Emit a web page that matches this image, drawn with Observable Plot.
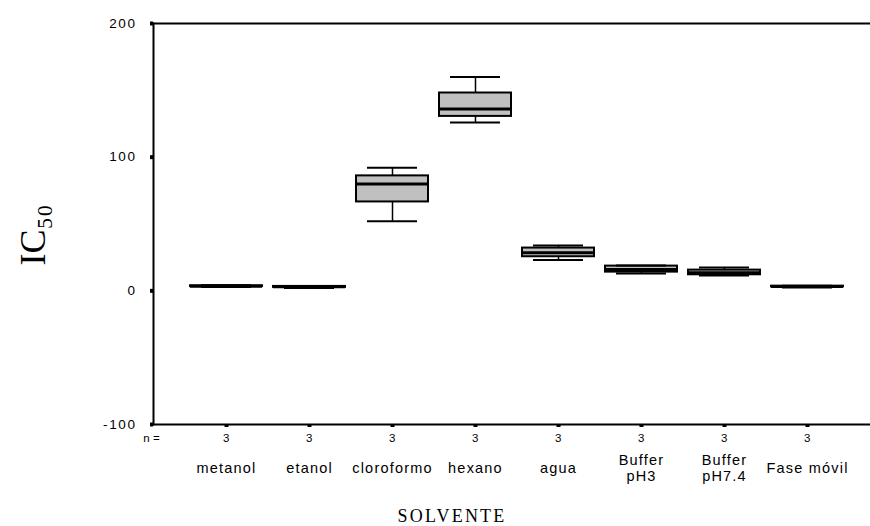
<!DOCTYPE html>
<html>
<head>
<meta charset="utf-8">
<script src="https://cdn.jsdelivr.net/npm/d3@7"></script>
<script src="https://cdn.jsdelivr.net/npm/@observablehq/plot@0.6"></script>
<style>
  html, body { margin: 0; padding: 0; background: #fff; }
  #chart svg { display: block; }
  #chart g[aria-label="y-axis tick label"] text { letter-spacing: 1.6px; }
  #chart g[aria-label="x-axis tick label"] text { letter-spacing: 0.5px; }
  #chart g.catlabels text { letter-spacing: 1.2px; }
  #chart g.xtitle text { letter-spacing: 2.2px; }
</style>
</head>
<body>
<div id="chart"></div>
<script>
// Data (IC50 per solvent, n = 3 each)
const categories = ["metanol", "etanol", "cloroformo", "hexano", "agua", "Buffer pH3", "Buffer pH7.4", "Fase móvil"];
const labels     = ["metanol", "etanol", "cloroformo", "hexano", "agua", "Buffer\npH3", "Buffer\npH7.4", "Fase móvil"];
const nCounts    = [3, 3, 3, 3, 3, 3, 3, 3];
const mins       = [2.8, 2.2, 52, 126, 23, 13, 11.5, 2.5];
const q1s        = [3.2, 2.6, 66.5, 130.5, 25.5, 14, 12, 3.0];
const medians    = [3.5, 3.0, 80, 136, 28.5, 16, 13.5, 3.2];
const q3s        = [3.8, 3.3, 86, 148, 32, 18.5, 15.5, 3.5];
const maxs       = [4.2, 3.6, 92, 160, 34, 19, 17.5, 3.8];
const yTicks     = [-100, 0, 100, 200];

const rows = categories.map((c, i) => ({
  cat: c, label: labels[i], n: nCounts[i],
  min: mins[i], q1: q1s[i], med: medians[i], q3: q3s[i], max: maxs[i]
}));

const sans = "'Liberation Sans', Arial, sans-serif";
const serif = "'Liberation Serif', 'Times New Roman', serif";

const chart = Plot.plot({
  width: 870,
  height: 526,
  marginTop: 23,
  marginBottom: 102,
  marginLeft: 153,
  marginRight: 0,
  style: { fontFamily: sans, background: "white", color: "black" },
  x: { type: "band", domain: categories, paddingInner: 0.132, paddingOuter: 0.38, align: 0.585, label: null },
  y: { domain: [-100, 200], label: null },
  marks: [
    // axes lines (top, bottom, left)
    Plot.ruleY([yTicks[0], yTicks[yTicks.length - 1]], { stroke: "black", strokeWidth: 2 }),
    Plot.frame({ anchor: "left", stroke: "black", strokeWidth: 2 }),
    Plot.axisY({ ticks: yTicks, tickSize: 3, tickPadding: 14, strokeWidth: 4, fontSize: 13.5, label: null,
                 tickFormat: (d) => String(d) }),
    Plot.axisX({ tickSize: 3, tickPadding: 6, strokeWidth: 4, fontSize: 11.5, label: null,
                 tickFormat: (d) => String(nCounts[categories.indexOf(d)]) }),
    // whiskers
    Plot.ruleX(rows, { x: "cat", y1: "min", y2: "max", stroke: "black", strokeWidth: 1.5 }),
    // boxes
    Plot.barY(rows, { x: "cat", y1: "q1", y2: "q3", fill: "#c0c0c0", stroke: "black", strokeWidth: 2 }),
    // medians
    Plot.tickY(rows, { x: "cat", y: "med", stroke: "black", strokeWidth: 3 }),
    // whisker caps
    Plot.tickY(rows, { x: "cat", y: "min", stroke: "black", strokeWidth: 2, insetLeft: 11, insetRight: 11 }),
    Plot.tickY(rows, { x: "cat", y: "max", stroke: "black", strokeWidth: 2, insetLeft: 11, insetRight: 11 }),
    // category names
    Plot.text(rows, { x: "cat", text: "label", frameAnchor: "bottom", dy: 43, lineAnchor: "middle",
                      fontSize: 14.5, fill: "black", lineHeight: 1.15, className: "catlabels" }),
    // "n =" label
    Plot.text(["n ="], { frameAnchor: "bottom-left", dx: -2, dy: 14, textAnchor: "middle", lineAnchor: "middle",
                         fontSize: 11.5, fill: "black" }),
    // y axis title
    Plot.text(["IC₅₀"], { frameAnchor: "left", dx: -120, dy: 11, rotate: -90, textAnchor: "middle",
                          lineAnchor: "middle", fontSize: 36, fontFamily: serif, fill: "black" }),
    // x axis title
    Plot.text(["SOLVENTE"], { frameAnchor: "bottom", dx: -60, dy: 92, textAnchor: "middle", lineAnchor: "middle",
                              fontSize: 18, fontFamily: serif, fill: "black", className: "xtitle" })
  ]
});
document.getElementById("chart").appendChild(chart);
</script>
</body>
</html>
